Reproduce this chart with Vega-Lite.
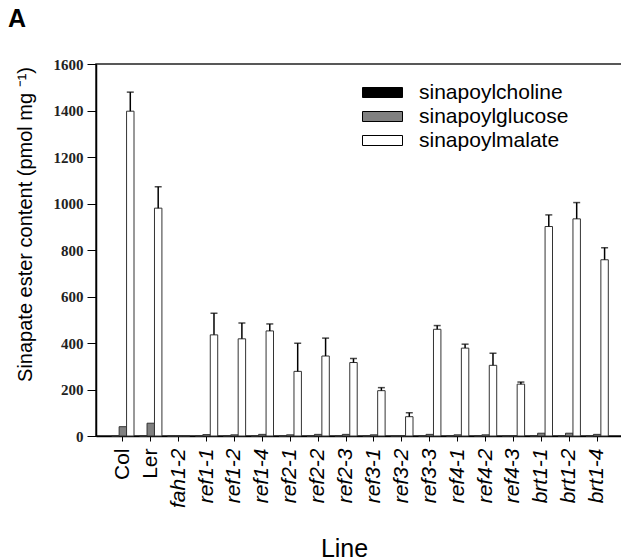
{
  "$schema": "https://vega.github.io/schema/vega-lite/v6.json",
  "autosize": "none",
  "padding": {"left": 96, "top": 64, "right": 0, "bottom": 124},
  "width": 528,
  "height": 372,
  "background": "white",
  "config": {
    "view": {"stroke": "#222", "strokeWidth": 1.5},
    "font": "Liberation Sans"
  },
  "title": {
    "text": "A",
    "anchor": "start",
    "frame": "group",
    "dx": -88,
    "offset": 5,
    "baseline": "alphabetic",
    "fontSize": 25,
    "fontWeight": "bold",
    "font": "Liberation Sans",
    "color": "#000"
  },
  "data": {
    "values": [
      {"line": "Col", "ester": "sinapoylcholine", "value": 0, "err": null, "upper": null},
      {"line": "Col", "ester": "sinapoylglucose", "value": 40, "err": null, "upper": null},
      {"line": "Col", "ester": "sinapoylmalate", "value": 1397, "err": 82, "upper": 1479},
      {"line": "Ler", "ester": "sinapoylcholine", "value": 0, "err": null, "upper": null},
      {"line": "Ler", "ester": "sinapoylglucose", "value": 55, "err": null, "upper": null},
      {"line": "Ler", "ester": "sinapoylmalate", "value": 980, "err": 92, "upper": 1072},
      {"line": "fah1-2", "ester": "sinapoylcholine", "value": 0, "err": null, "upper": null},
      {"line": "fah1-2", "ester": "sinapoylglucose", "value": 0, "err": null, "upper": null},
      {"line": "fah1-2", "ester": "sinapoylmalate", "value": 0, "err": null, "upper": null},
      {"line": "ref1-1", "ester": "sinapoylcholine", "value": 0, "err": null, "upper": null},
      {"line": "ref1-1", "ester": "sinapoylglucose", "value": 6, "err": null, "upper": null},
      {"line": "ref1-1", "ester": "sinapoylmalate", "value": 435, "err": 93, "upper": 528},
      {"line": "ref1-2", "ester": "sinapoylcholine", "value": 0, "err": null, "upper": null},
      {"line": "ref1-2", "ester": "sinapoylglucose", "value": 5, "err": null, "upper": null},
      {"line": "ref1-2", "ester": "sinapoylmalate", "value": 418, "err": 68, "upper": 486},
      {"line": "ref1-4", "ester": "sinapoylcholine", "value": 0, "err": null, "upper": null},
      {"line": "ref1-4", "ester": "sinapoylglucose", "value": 7, "err": null, "upper": null},
      {"line": "ref1-4", "ester": "sinapoylmalate", "value": 452, "err": 30, "upper": 482},
      {"line": "ref2-1", "ester": "sinapoylcholine", "value": 0, "err": null, "upper": null},
      {"line": "ref2-1", "ester": "sinapoylglucose", "value": 5, "err": null, "upper": null},
      {"line": "ref2-1", "ester": "sinapoylmalate", "value": 278, "err": 121, "upper": 399},
      {"line": "ref2-2", "ester": "sinapoylcholine", "value": 0, "err": null, "upper": null},
      {"line": "ref2-2", "ester": "sinapoylglucose", "value": 7, "err": null, "upper": null},
      {"line": "ref2-2", "ester": "sinapoylmalate", "value": 344, "err": 77, "upper": 421},
      {"line": "ref2-3", "ester": "sinapoylcholine", "value": 0, "err": null, "upper": null},
      {"line": "ref2-3", "ester": "sinapoylglucose", "value": 7, "err": null, "upper": null},
      {"line": "ref2-3", "ester": "sinapoylmalate", "value": 316, "err": 17, "upper": 333},
      {"line": "ref3-1", "ester": "sinapoylcholine", "value": 0, "err": null, "upper": null},
      {"line": "ref3-1", "ester": "sinapoylglucose", "value": 5, "err": null, "upper": null},
      {"line": "ref3-1", "ester": "sinapoylmalate", "value": 195, "err": 13, "upper": 208},
      {"line": "ref3-2", "ester": "sinapoylcholine", "value": 0, "err": null, "upper": null},
      {"line": "ref3-2", "ester": "sinapoylglucose", "value": 0, "err": null, "upper": null},
      {"line": "ref3-2", "ester": "sinapoylmalate", "value": 83, "err": 17, "upper": 100},
      {"line": "ref3-3", "ester": "sinapoylcholine", "value": 0, "err": null, "upper": null},
      {"line": "ref3-3", "ester": "sinapoylglucose", "value": 7, "err": null, "upper": null},
      {"line": "ref3-3", "ester": "sinapoylmalate", "value": 459, "err": 16, "upper": 475},
      {"line": "ref4-1", "ester": "sinapoylcholine", "value": 0, "err": null, "upper": null},
      {"line": "ref4-1", "ester": "sinapoylglucose", "value": 5, "err": null, "upper": null},
      {"line": "ref4-1", "ester": "sinapoylmalate", "value": 378, "err": 17, "upper": 395},
      {"line": "ref4-2", "ester": "sinapoylcholine", "value": 0, "err": null, "upper": null},
      {"line": "ref4-2", "ester": "sinapoylglucose", "value": 5, "err": null, "upper": null},
      {"line": "ref4-2", "ester": "sinapoylmalate", "value": 304, "err": 52, "upper": 356},
      {"line": "ref4-3", "ester": "sinapoylcholine", "value": 0, "err": null, "upper": null},
      {"line": "ref4-3", "ester": "sinapoylglucose", "value": 0, "err": null, "upper": null},
      {"line": "ref4-3", "ester": "sinapoylmalate", "value": 223, "err": 9, "upper": 232},
      {"line": "brt1-1", "ester": "sinapoylcholine", "value": 0, "err": null, "upper": null},
      {"line": "brt1-1", "ester": "sinapoylglucose", "value": 12, "err": null, "upper": null},
      {"line": "brt1-1", "ester": "sinapoylmalate", "value": 901, "err": 50, "upper": 951},
      {"line": "brt1-2", "ester": "sinapoylcholine", "value": 0, "err": null, "upper": null},
      {"line": "brt1-2", "ester": "sinapoylglucose", "value": 12, "err": null, "upper": null},
      {"line": "brt1-2", "ester": "sinapoylmalate", "value": 934, "err": 70, "upper": 1004},
      {"line": "brt1-4", "ester": "sinapoylcholine", "value": 0, "err": null, "upper": null},
      {"line": "brt1-4", "ester": "sinapoylglucose", "value": 7, "err": null, "upper": null},
      {"line": "brt1-4", "ester": "sinapoylmalate", "value": 758, "err": 52, "upper": 810}
    ]
  },
  "encoding": {
    "x": {
      "field": "line",
      "type": "nominal",
      "sort": null,
      "scale": {"paddingInner": 0.2, "paddingOuter": 0.5625},
      "axis": {
        "title": "Line",
        "titleFont": "Liberation Sans",
        "titleFontSize": 25,
        "titleFontWeight": "normal",
        "titleColor": "#000",
        "titleX": 248,
        "titleY": 120,
        "titleBaseline": "alphabetic",
        "labelAngle": 270,
        "labelAlign": "right",
        "labelBaseline": "middle",
        "labelFont": "Liberation Sans",
        "labelFontSize": 21,
        "labelFontStyle": {
          "condition": {"test": "datum.value === 'Col' || datum.value === 'Ler'", "value": "normal"},
          "value": "italic"
        },
        "labelColor": "#000",
        "labelPadding": 7,
        "tickSize": 5,
        "tickColor": "#000",
        "domainColor": "#000",
        "domainWidth": 1.5,
        "grid": false
      }
    },
    "xOffset": {
      "field": "ester",
      "type": "nominal",
      "sort": ["sinapoylcholine", "sinapoylglucose", "sinapoylmalate"],
      "scale": {"paddingInner": 0, "paddingOuter": 0}
    }
  },
  "layer": [
    {
      "mark": {"type": "bar", "stroke": "#333", "strokeWidth": 1},
      "encoding": {
        "y": {
          "field": "value",
          "type": "quantitative",
          "scale": {"domain": [0, 1600], "nice": false},
          "axis": {
            "title": "Sinapate ester content (pmol mg ⁻¹)",
            "titleFont": "Liberation Sans",
            "titleFontSize": 20,
            "titleFontWeight": "normal",
            "titleColor": "#000",
            "titleX": -71,
            "titleY": 160,
            "titleAlign": "center",
            "titleBaseline": "middle",
            "values": [0, 200, 400, 600, 800, 1000, 1200, 1400, 1600],
            "format": "d",
            "labelFont": "Liberation Serif",
            "labelFontSize": 15,
            "labelFontWeight": "bold",
            "labelColor": "#222",
            "labelPadding": 4,
            "tickSize": 9,
            "tickColor": "#000",
            "domainColor": "#000",
            "domainWidth": 1.5,
            "grid": false
          }
        },
        "color": {
          "field": "ester",
          "type": "nominal",
          "scale": {
            "domain": ["sinapoylcholine", "sinapoylglucose", "sinapoylmalate"],
            "range": ["#000000", "#808080", "#ffffff"]
          },
          "legend": {
            "title": null,
            "orient": "none",
            "legendX": 276,
            "legendY": 18,
            "padding": 0,
            "symbolType": "M-4,-1H4V1H-4Z",
            "symbolSize": 100,
            "symbolStrokeColor": "#000",
            "symbolStrokeWidth": 1,
            "symbolOpacity": 1,
            "labelFont": "Liberation Sans",
            "labelFontSize": 21,
            "labelColor": "#000",
            "labelOffset": 26,
            "rowPadding": 2
          }
        }
      }
    },
    {
      "transform": [{"filter": "datum.err > 0"}],
      "mark": {"type": "rule", "color": "#000", "strokeWidth": 1.5},
      "encoding": {
        "y": {"field": "value", "type": "quantitative"},
        "y2": {"field": "upper"}
      }
    },
    {
      "transform": [{"filter": "datum.err > 0"}],
      "mark": {"type": "tick", "color": "#000", "thickness": 1.5, "size": 7},
      "encoding": {
        "y": {"field": "upper", "type": "quantitative"}
      }
    }
  ]
}
